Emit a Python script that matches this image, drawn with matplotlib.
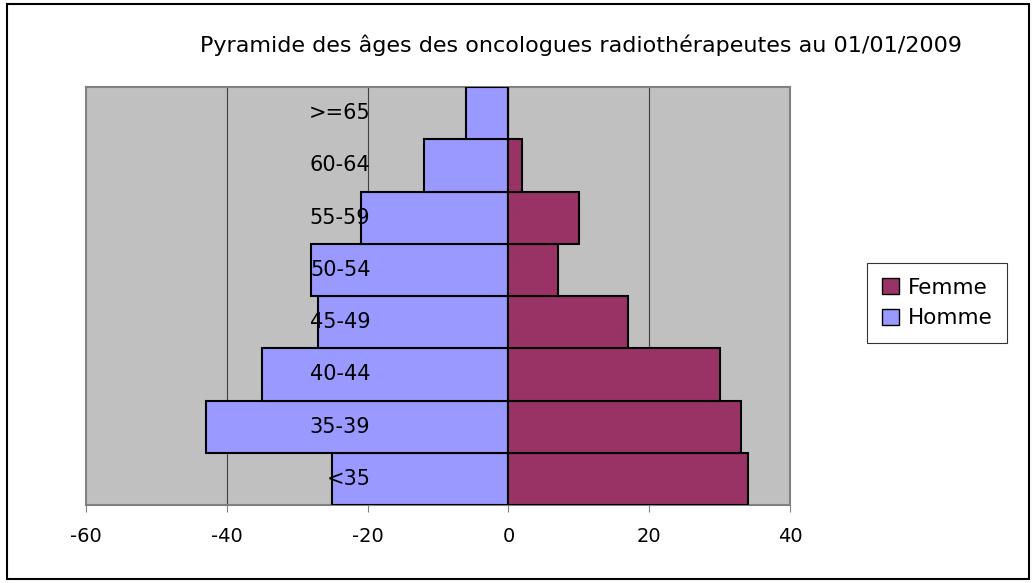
import matplotlib

matplotlib.use("Agg")
from matplotlib import pyplot as plt
from matplotlib.patches import Patch, Rectangle

plt.rcParams["font.family"] = ["DejaVu Sans"]
plt.rcParams["axes.unicode_minus"] = False

age_groups = ["<35", "35-39", "40-44", "45-49", "50-54", "55-59", "60-64", ">=65"]
homme = [-25, -43, -35, -27, -28, -21, -12, -6]
femme = [34, 33, 30, 17, 7, 10, 2, 0]
x_ticks = [-60, -40, -20, 0, 20, 40]

W, H = 1035, 583
fig = plt.figure(figsize=(W / 100, H / 100), dpi=100)
ax = fig.add_axes([86 / W, 1 - 505 / H, (790 - 86) / W, (505 - 87) / H])
ax.set_facecolor("#C0C0C0")

pos = list(range(len(age_groups)))
ax.barh(pos, homme, height=1.0, color="#9999FF", edgecolor="black", linewidth=1.5, zorder=3, label="Homme")
ax.barh(pos, femme, height=1.0, color="#993366", edgecolor="black", linewidth=1.5, zorder=3, label="Femme")

ax.set_xlim(-60, 40)
ax.set_ylim(-0.5, len(age_groups) - 0.5)
ax.set_xticks(x_ticks)
ax.set_xticklabels([str(v) for v in x_ticks], fontsize=14)
ax.set_yticks([])
for v in x_ticks[1:-1]:
    ax.axvline(v, color="#404040", linewidth=0.8, zorder=1)
ax.tick_params(axis="x", length=5, width=0.8, color="#808080", pad=11)
for side in ["top", "right", "left", "bottom"]:
    ax.spines[side].set_color("#808080")
    ax.spines[side].set_linewidth(1.5)

# category labels sit inside the plot area
for p, lab in zip(pos, age_groups):
    ax.text(-19.6, p, lab, ha="right", va="center", fontsize=15, zorder=4)

fig.text(581 / W, 1 - 45 / H, "Pyramide des âges des oncologues radiothérapeutes au 01/01/2009",
         ha="center", va="center", fontsize=16)

handles = [Patch(facecolor="#993366", edgecolor="black", label="Femme"),
           Patch(facecolor="#9999FF", edgecolor="black", label="Homme")]
leg = fig.legend(handles=handles, loc="center", bbox_to_anchor=(937 / W, 1 - 303 / H),
                 fontsize=15.5, frameon=True, fancybox=False, handlelength=0.8, handleheight=0.8,
                 handletextpad=0.4, borderpad=0.7, labelspacing=0.5)
leg.get_frame().set_edgecolor("black")
leg.get_frame().set_linewidth(0.8)

fig.patches.append(Rectangle((7 / W, 1 - 579 / H), (1029 - 7) / W, (579 - 4) / H,
                             transform=fig.transFigure, fill=False, edgecolor="black", linewidth=1.5))

fig.savefig("out.png", dpi=100)
plt.close(fig)
